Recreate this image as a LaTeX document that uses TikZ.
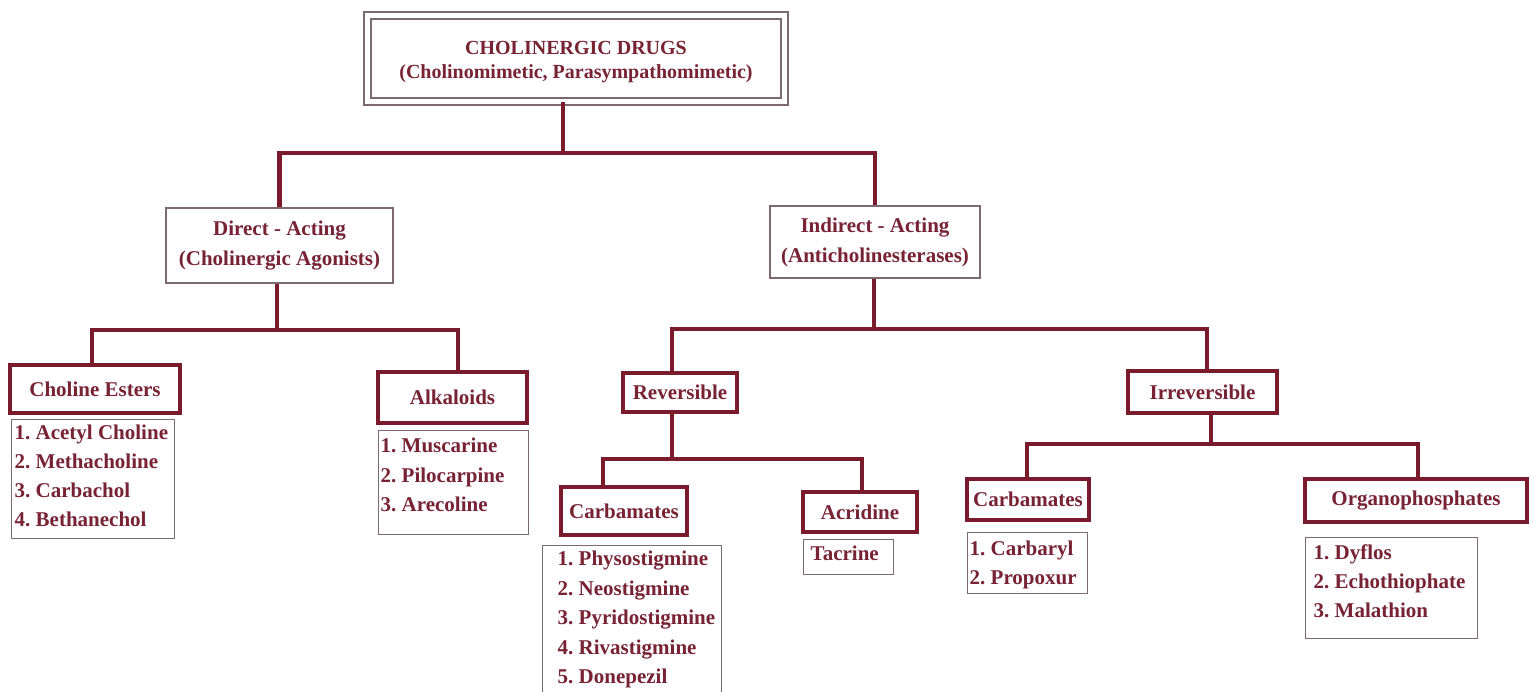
\documentclass[tikz,border=0pt]{standalone}
\usepackage{fontspec}
\setmainfont{Liberation Serif}
\definecolor{maroon}{HTML}{7A1B2D}
\definecolor{txt}{HTML}{772235}
\definecolor{thin}{HTML}{7D6A6E}
\newcommand\listpar[6]{\parbox[t][#2pt][t]{#1pt}{\setlength\baselineskip{#5pt}\setlength\leftskip{#4pt}\noindent\rule{0pt}{#3pt}#6}}
\begin{document}
\frenchspacing
\begin{tikzpicture}[x=1pt,y=-1pt,
  bigfont/.style={font=\fontsize{21}{30}\selectfont\bfseries},
  titlebox/.style={draw=thin, line width=1.5pt, double=white, double distance=5.5pt, inner sep=0pt, align=center, text=txt, font=\fontsize{20}{24}\selectfont\bfseries},
  catbox/.style={draw=thin, line width=1.8pt, fill=white, inner sep=0pt, align=center, text=txt, bigfont},
  grpbox/.style={draw=maroon, line width=4.5pt, fill=white, inner sep=0pt, align=center, text=txt, bigfont},
  lstbox/.style={draw=thin, line width=1.4pt, fill=white, inner sep=0pt, anchor=north west, text=txt, bigfont},
  conn/.style={draw=maroon, line width=4.5pt}]
\useasboundingbox[fill=white] (0,0) rectangle (1533,692);

% top
\node[titlebox, minimum width=417, minimum height=86] (top) at (576,58.5)
  {\rule{0pt}{21pt}CHOLINERGIC DRUGS\\(Cholinomimetic, Parasympathomimetic)};

% second level
\node[catbox, minimum width=227, minimum height=75] (direct) at (279.5,245.5)
  {Direct - Acting\\(Cholinergic Agonists)};
\node[catbox, minimum width=210, minimum height=72] (indirect) at (875,242)
  {Indirect - Acting\\(Anticholinesterases)};

% third level
\node[grpbox, minimum width=170, minimum height=48] (ce) at (95,389) {Choline Esters};
\node[grpbox, minimum width=149, minimum height=51] (alk) at (452.5,397.5) {Alkaloids};
\node[grpbox, minimum width=114, minimum height=39] (rev) at (680,392.5) {Reversible};
\node[grpbox, minimum width=149, minimum height=42] (irr) at (1202.5,392) {Irreversible};

% fourth level
\node[grpbox, minimum width=126, minimum height=48] (carbA) at (624,511) {Carbamates};
\node[grpbox, minimum width=114, minimum height=40] (acr) at (860,512) {Acridine};
\node[grpbox, minimum width=122, minimum height=41] (carbB) at (1028,499.5) {Carbamates};
\node[grpbox, minimum width=222, minimum height=43] (org) at (1416,500.5) {Organophosphates};

% lists
\node[lstbox] (celist) at (11,419) {\listpar{163}{119}{20}{3}{29}{%
  \mbox{1. Acetyl Choline}\\\mbox{2. Methacholine}\\\mbox{3. Carbachol}\\\mbox{4. Bethanechol}}};
\node[lstbox] (alklist) at (378,430) {\listpar{150}{104}{22}{2}{29.5}{%
  \mbox{1. Muscarine}\\\mbox{2. Pilocarpine}\\\mbox{3. Arecoline}}};
\node[lstbox] (carbAlist) at (542,545) {\listpar{179}{160}{20}{15}{29.5}{%
  \mbox{1. Physostigmine}\\\mbox{2. Neostigmine}\\\mbox{3. Pyridostigmine}\\\mbox{4. Rivastigmine}\\\mbox{5. Donepezil}}};
\node[lstbox] (taclist) at (803,539) {\listpar{90}{35}{21}{7}{29}{\mbox{Tacrine}}};
\node[lstbox] (carbBlist) at (967,532) {\listpar{120}{61}{23}{2}{29}{%
  \mbox{1. Carbaryl}\\\mbox{2. Propoxur}}};
\node[lstbox] (orglist) at (1305,537) {\listpar{172}{101}{22}{8}{29}{%
  \mbox{1. Dyflos}\\\mbox{2. Echothiophate}\\\mbox{3. Malathion}}};

% junctions
\coordinate (j1) at (563,153);
\coordinate (j2) at (277,330);
\coordinate (j3) at (874,329);
\coordinate (j4) at (672,459);
\coordinate (j5) at (1211,444);

% connectors
\draw[conn] (top.south -| j1) -- (j1);
\draw[conn] (direct.north) |- (j1) -| (indirect.north);
\draw[conn] (direct.south -| j2) -- (j2);
\draw[conn] ([xshift=-3]ce.north) |- (j2) -| ([xshift=5.5]alk.north);
\draw[conn] (indirect.south -| j3) -- (j3);
\draw[conn] ([xshift=-8]rev.north) |- (j3) -| ([xshift=4.5]irr.north);
\draw[conn] (rev.south -| j4) -- (j4);
\draw[conn] ([xshift=-21]carbA.north) |- (j4) -| ([xshift=2]acr.north);
\draw[conn] (irr.south -| j5) -- (j5);
\draw[conn] ([xshift=-1]carbB.north) |- (j5) -| ([xshift=2]org.north);
\end{tikzpicture}
\end{document}
